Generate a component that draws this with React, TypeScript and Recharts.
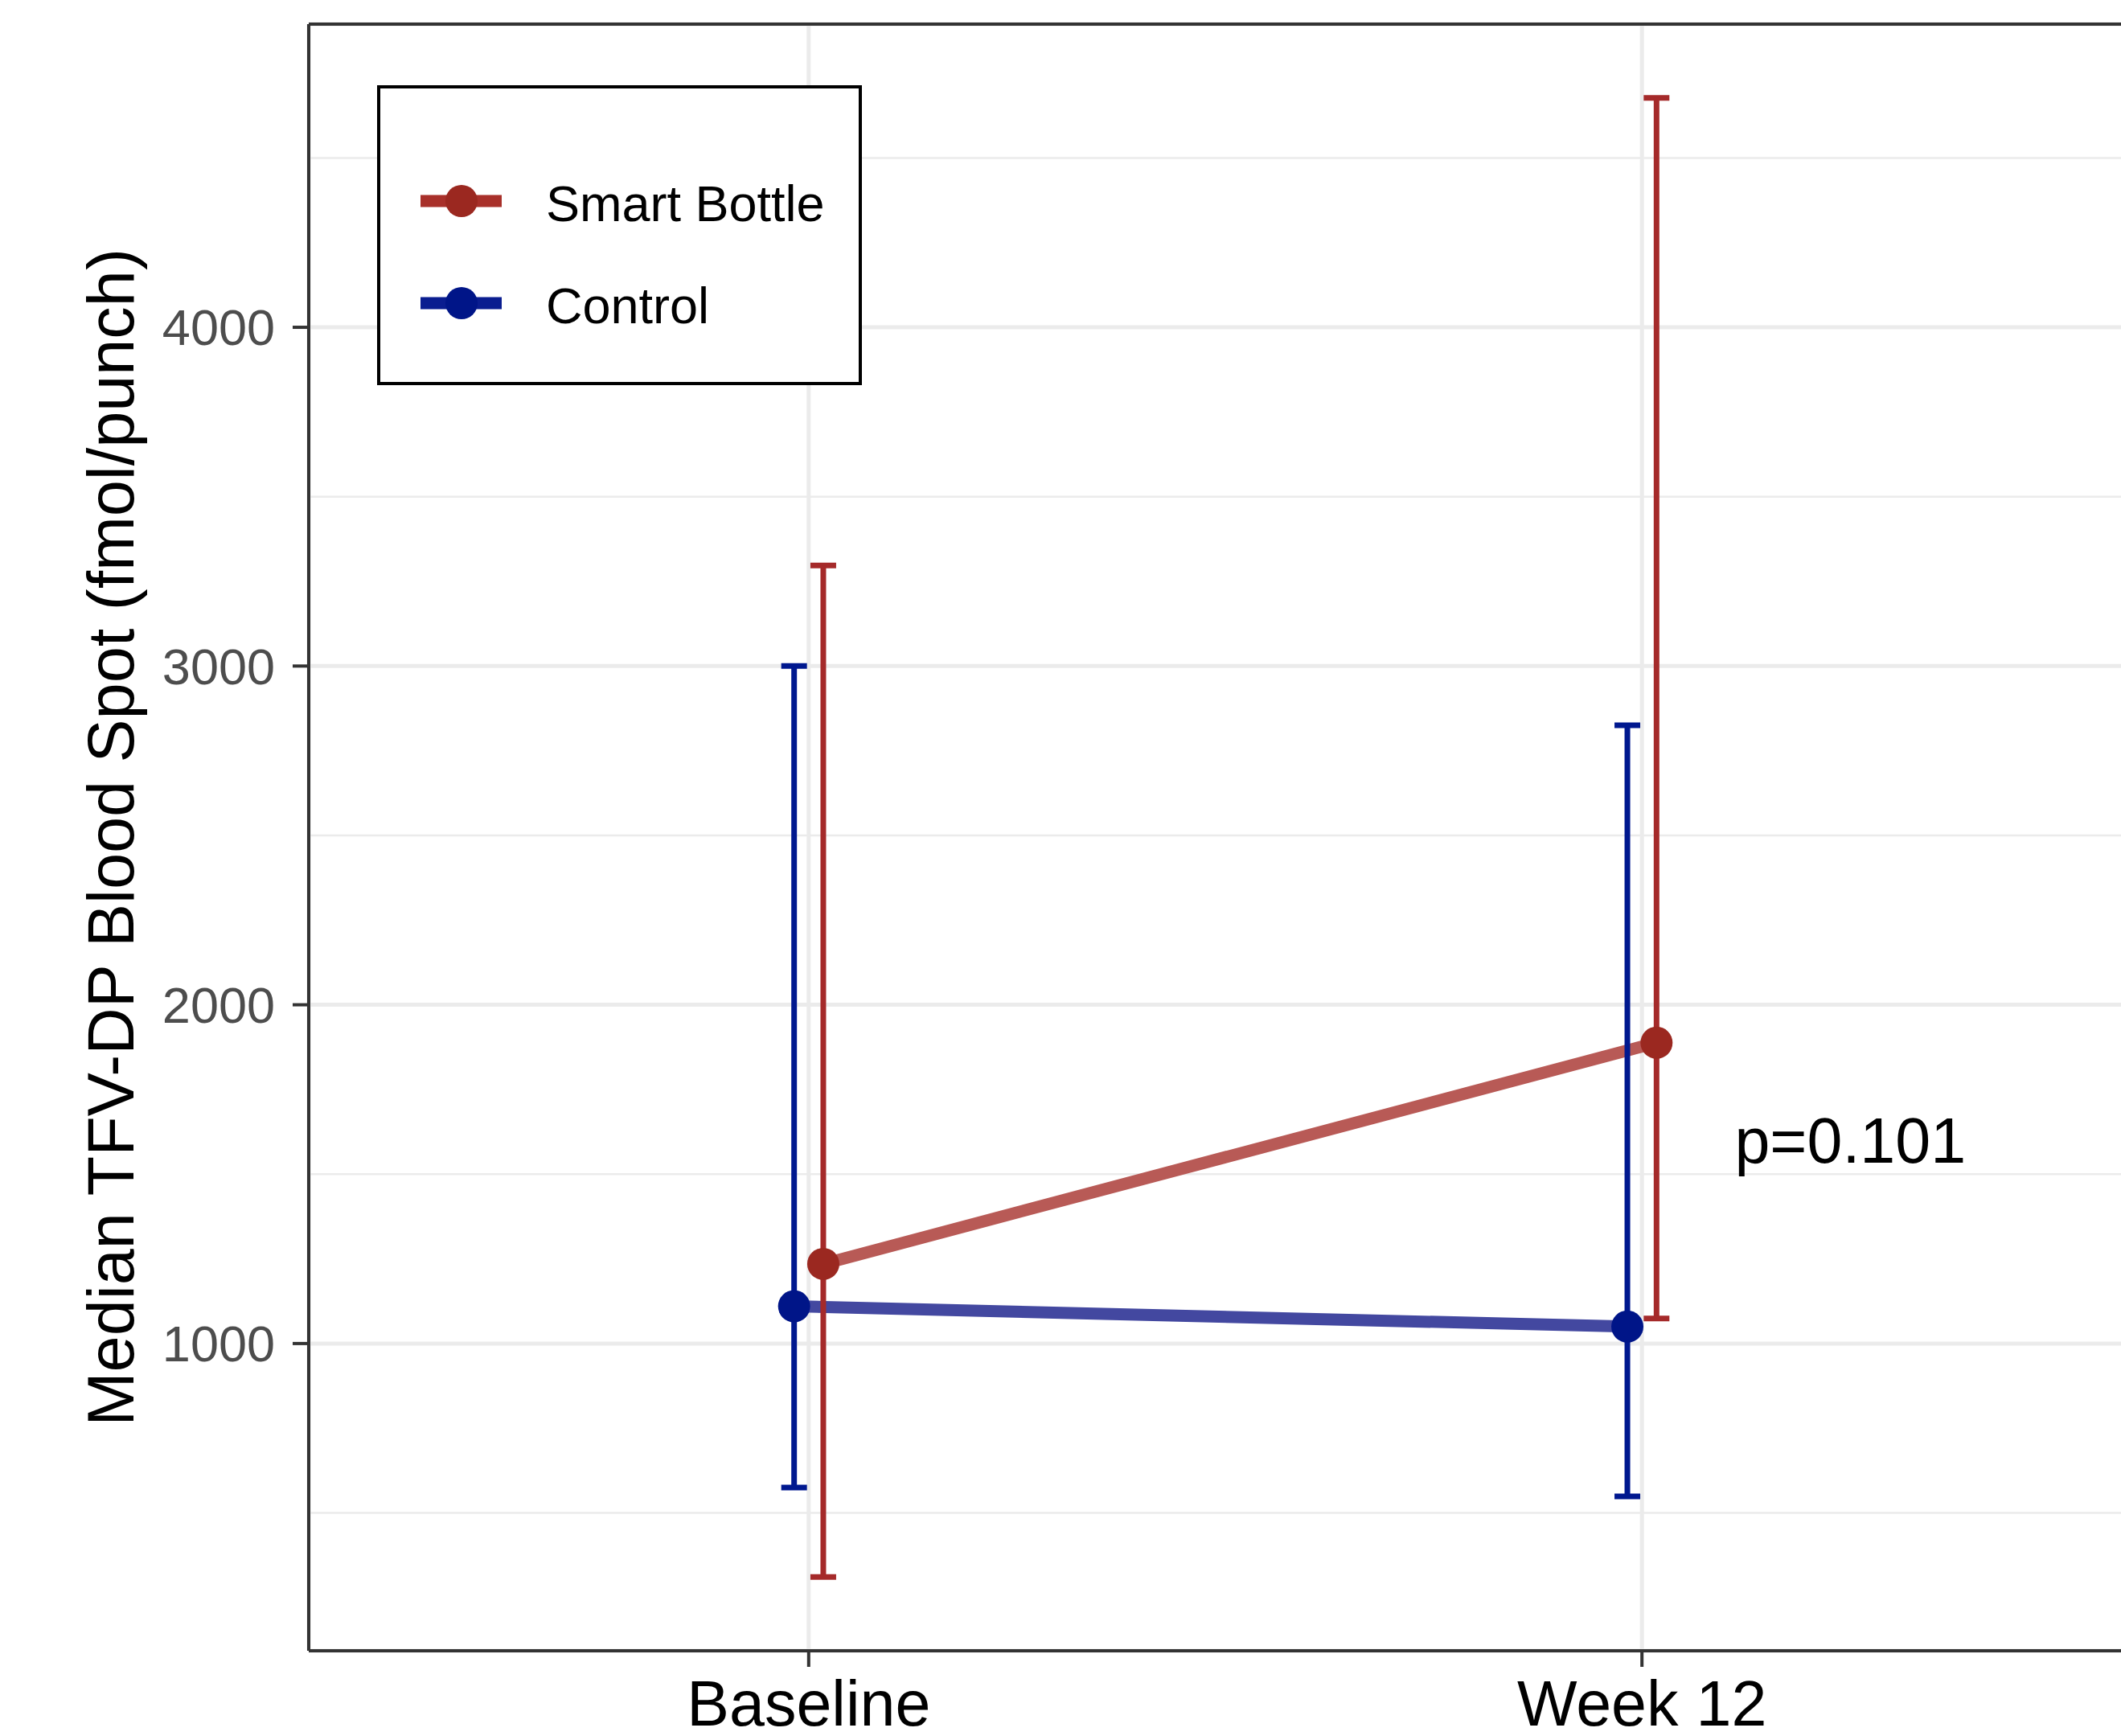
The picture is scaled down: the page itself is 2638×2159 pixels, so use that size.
import React from 'react';
import {
  ComposedChart,
  Line,
  XAxis,
  YAxis,
  CartesianGrid,
  ErrorBar,
  ReferenceDot,
  ReferenceLine,
  Legend,
} from 'recharts';

const CATEGORIES = ['Baseline', 'Week 12'];
const SERIES_NAMES = ['Smart Bottle', 'Control'];
const SMART_MEDIAN = [1235, 1888];
const SMART_LOW = [311, 1074];
const SMART_HIGH = [3297, 4677];
const CONTROL_MEDIAN = [1110, 1050];
const CONTROL_LOW = [575, 549];
const CONTROL_HIGH = [3000, 2825];
const Y_MAJOR_TICKS = [1000, 2000, 3000, 4000];
const Y_MINOR_TICKS = [500, 1500, 2500, 3500, 4500];
const Y_TITLE = 'Median TFV-DP Blood Spot (fmol/punch)';
const P_LABEL = 'p=0.101';
const P_AT = { x: 2.25, y: 1600 };

const FONT = '"Liberation Sans", Arial, Helvetica, sans-serif';
const Y_DOMAIN: [number, number] = [93, 4895];
const X_DOMAIN: [number, number] = [0.4, 2.6];
const DODGE = 0.0175;

const COLORS = {
  smart: { line: '#B85A56', point: '#9B2820', err: '#A52A2A', key: '#A8302A' },
  control: { line: '#4348A0', point: '#001588', err: '#00188F', key: '#0A1D90' },
};

const build = (med: number[], low: number[], high: number[], sign: number) =>
  CATEGORIES.map((c, i) => ({
    cat: c,
    x: i + 1 + sign * DODGE,
    y: med[i],
    err: [med[i] - low[i], high[i] - med[i]],
  }));

const smartData = build(SMART_MEDIAN, SMART_LOW, SMART_HIGH, 1);
const controlData = build(CONTROL_MEDIAN, CONTROL_LOW, CONTROL_HIGH, -1);

const makeDot = (color: string) => (p: any) => (
  <circle key={`d-${p.index}-${color}`} cx={p.cx} cy={p.cy} r={20} fill={color} stroke="none" />
);

const YTitle = (props: any) => {
  const vb = props.viewBox || { x: 0, y: 30, width: 384, height: 2023 };
  const cx = vb.x + 166;
  const cy = vb.y + vb.height / 2;
  return (
    <text
      x={cx}
      y={cy}
      transform={`rotate(-90 ${cx} ${cy})`}
      textAnchor="middle"
      fontSize={81}
      fill="#000"
      fontFamily={FONT}
    >
      {Y_TITLE}
    </text>
  );
};

const LegendBox = () => {
  const items = [
    { name: SERIES_NAMES[0], c: COLORS.smart, base: 169 },
    { name: SERIES_NAMES[1], c: COLORS.control, base: 296 },
  ];
  return (
    <svg width={603} height={373} style={{ display: 'block' }}>
      <rect x={2} y={2} width={599} height={369} fill="#fff" stroke="#000" strokeWidth={4} />
      {items.map((it) => {
        const cy = it.base - 25;
        return (
          <g key={it.name}>
            <line x1={54} x2={155} y1={cy} y2={cy} stroke={it.c.key} strokeWidth={15} />
            <circle cx={105} cy={cy} r={20} fill={it.c.point} />
            <text x={210} y={it.base} fontSize={63} fill="#000" fontFamily={FONT}>
              {it.name}
            </text>
          </g>
        );
      })}
    </svg>
  );
};

export default function App() {
  return (
    <div
      style={{
        position: 'absolute',
        left: 0,
        top: 0,
        width: 2638,
        height: 2159,
        overflow: 'hidden',
        background: '#fff',
        fontFamily: FONT,
      }}
    >
      <ComposedChart
        width={2700}
        height={2159}
        margin={{ top: 30, right: 36, bottom: 0, left: 0 }}
        style={{ fontFamily: FONT }}
      >
        <CartesianGrid yAxisId="minor" vertical={false} stroke="#EBEBEB" strokeWidth={2.5} />
        <CartesianGrid stroke="#EBEBEB" strokeWidth={5} />
        <XAxis
          dataKey="x"
          type="number"
          domain={X_DOMAIN}
          allowDataOverflow
          ticks={[1, 2]}
          interval={0}
          tickFormatter={(v: number) => CATEGORIES[Math.round(v) - 1]}
          height={106}
          tickSize={20}
          tickMargin={17}
          axisLine={{ stroke: '#333333', strokeWidth: 4 }}
          tickLine={{ stroke: '#333333', strokeWidth: 4 }}
          tick={{ fill: '#000', fontSize: 79, fontFamily: FONT }}
        />
        <YAxis
          type="number"
          domain={Y_DOMAIN}
          allowDataOverflow
          ticks={Y_MAJOR_TICKS}
          interval={0}
          width={384}
          tickSize={20}
          tickMargin={22}
          axisLine={{ stroke: '#333333', strokeWidth: 4 }}
          tickLine={{ stroke: '#333333', strokeWidth: 4 }}
          tick={{ fill: '#4D4D4D', fontSize: 63, fontFamily: FONT }}
          label={{ content: YTitle }}
        />
        <YAxis
          yAxisId="minor"
          hide
          type="number"
          domain={Y_DOMAIN}
          allowDataOverflow
          ticks={Y_MINOR_TICKS}
          interval={0}
        />
        <ReferenceLine y={Y_DOMAIN[1]} stroke="#333333" strokeWidth={4} ifOverflow="visible" />
        <Legend
          layout="vertical"
          align="center"
          verticalAlign="middle"
          content={() => <LegendBox />}
          wrapperStyle={{ left: 469, top: 106, width: 603, height: 373 }}
        />
        <Line
          data={smartData}
          dataKey="y"
          name={SERIES_NAMES[0]}
          stroke={COLORS.smart.line}
          strokeWidth={15}
          dot={false}
          activeDot={false}
          isAnimationActive={false}
        />
        <Line
          data={controlData}
          dataKey="y"
          name={SERIES_NAMES[1]}
          stroke={COLORS.control.line}
          strokeWidth={15}
          dot={false}
          activeDot={false}
          isAnimationActive={false}
        />
        <Line
          data={smartData}
          dataKey="y"
          name={`${SERIES_NAMES[0]} pts`}
          stroke="none"
          strokeWidth={0}
          dot={makeDot(COLORS.smart.point)}
          activeDot={false}
          isAnimationActive={false}
          legendType="none"
        >
          <ErrorBar dataKey="err" direction="y" width={16} strokeWidth={7} stroke={COLORS.smart.err} isAnimationActive={false} />
        </Line>
        <Line
          data={controlData}
          dataKey="y"
          name={`${SERIES_NAMES[1]} pts`}
          stroke="none"
          strokeWidth={0}
          dot={makeDot(COLORS.control.point)}
          activeDot={false}
          isAnimationActive={false}
          legendType="none"
        >
          <ErrorBar dataKey="err" direction="y" width={16} strokeWidth={7} stroke={COLORS.control.err} isAnimationActive={false} />
        </Line>
        <ReferenceDot
          x={P_AT.x}
          y={P_AT.y}
          r={0}
          shape={() => <g />}
          label={{ value: P_LABEL, position: 'center', fontSize: 79, fill: '#000', fontFamily: FONT }}
        />
      </ComposedChart>
    </div>
  );
}
